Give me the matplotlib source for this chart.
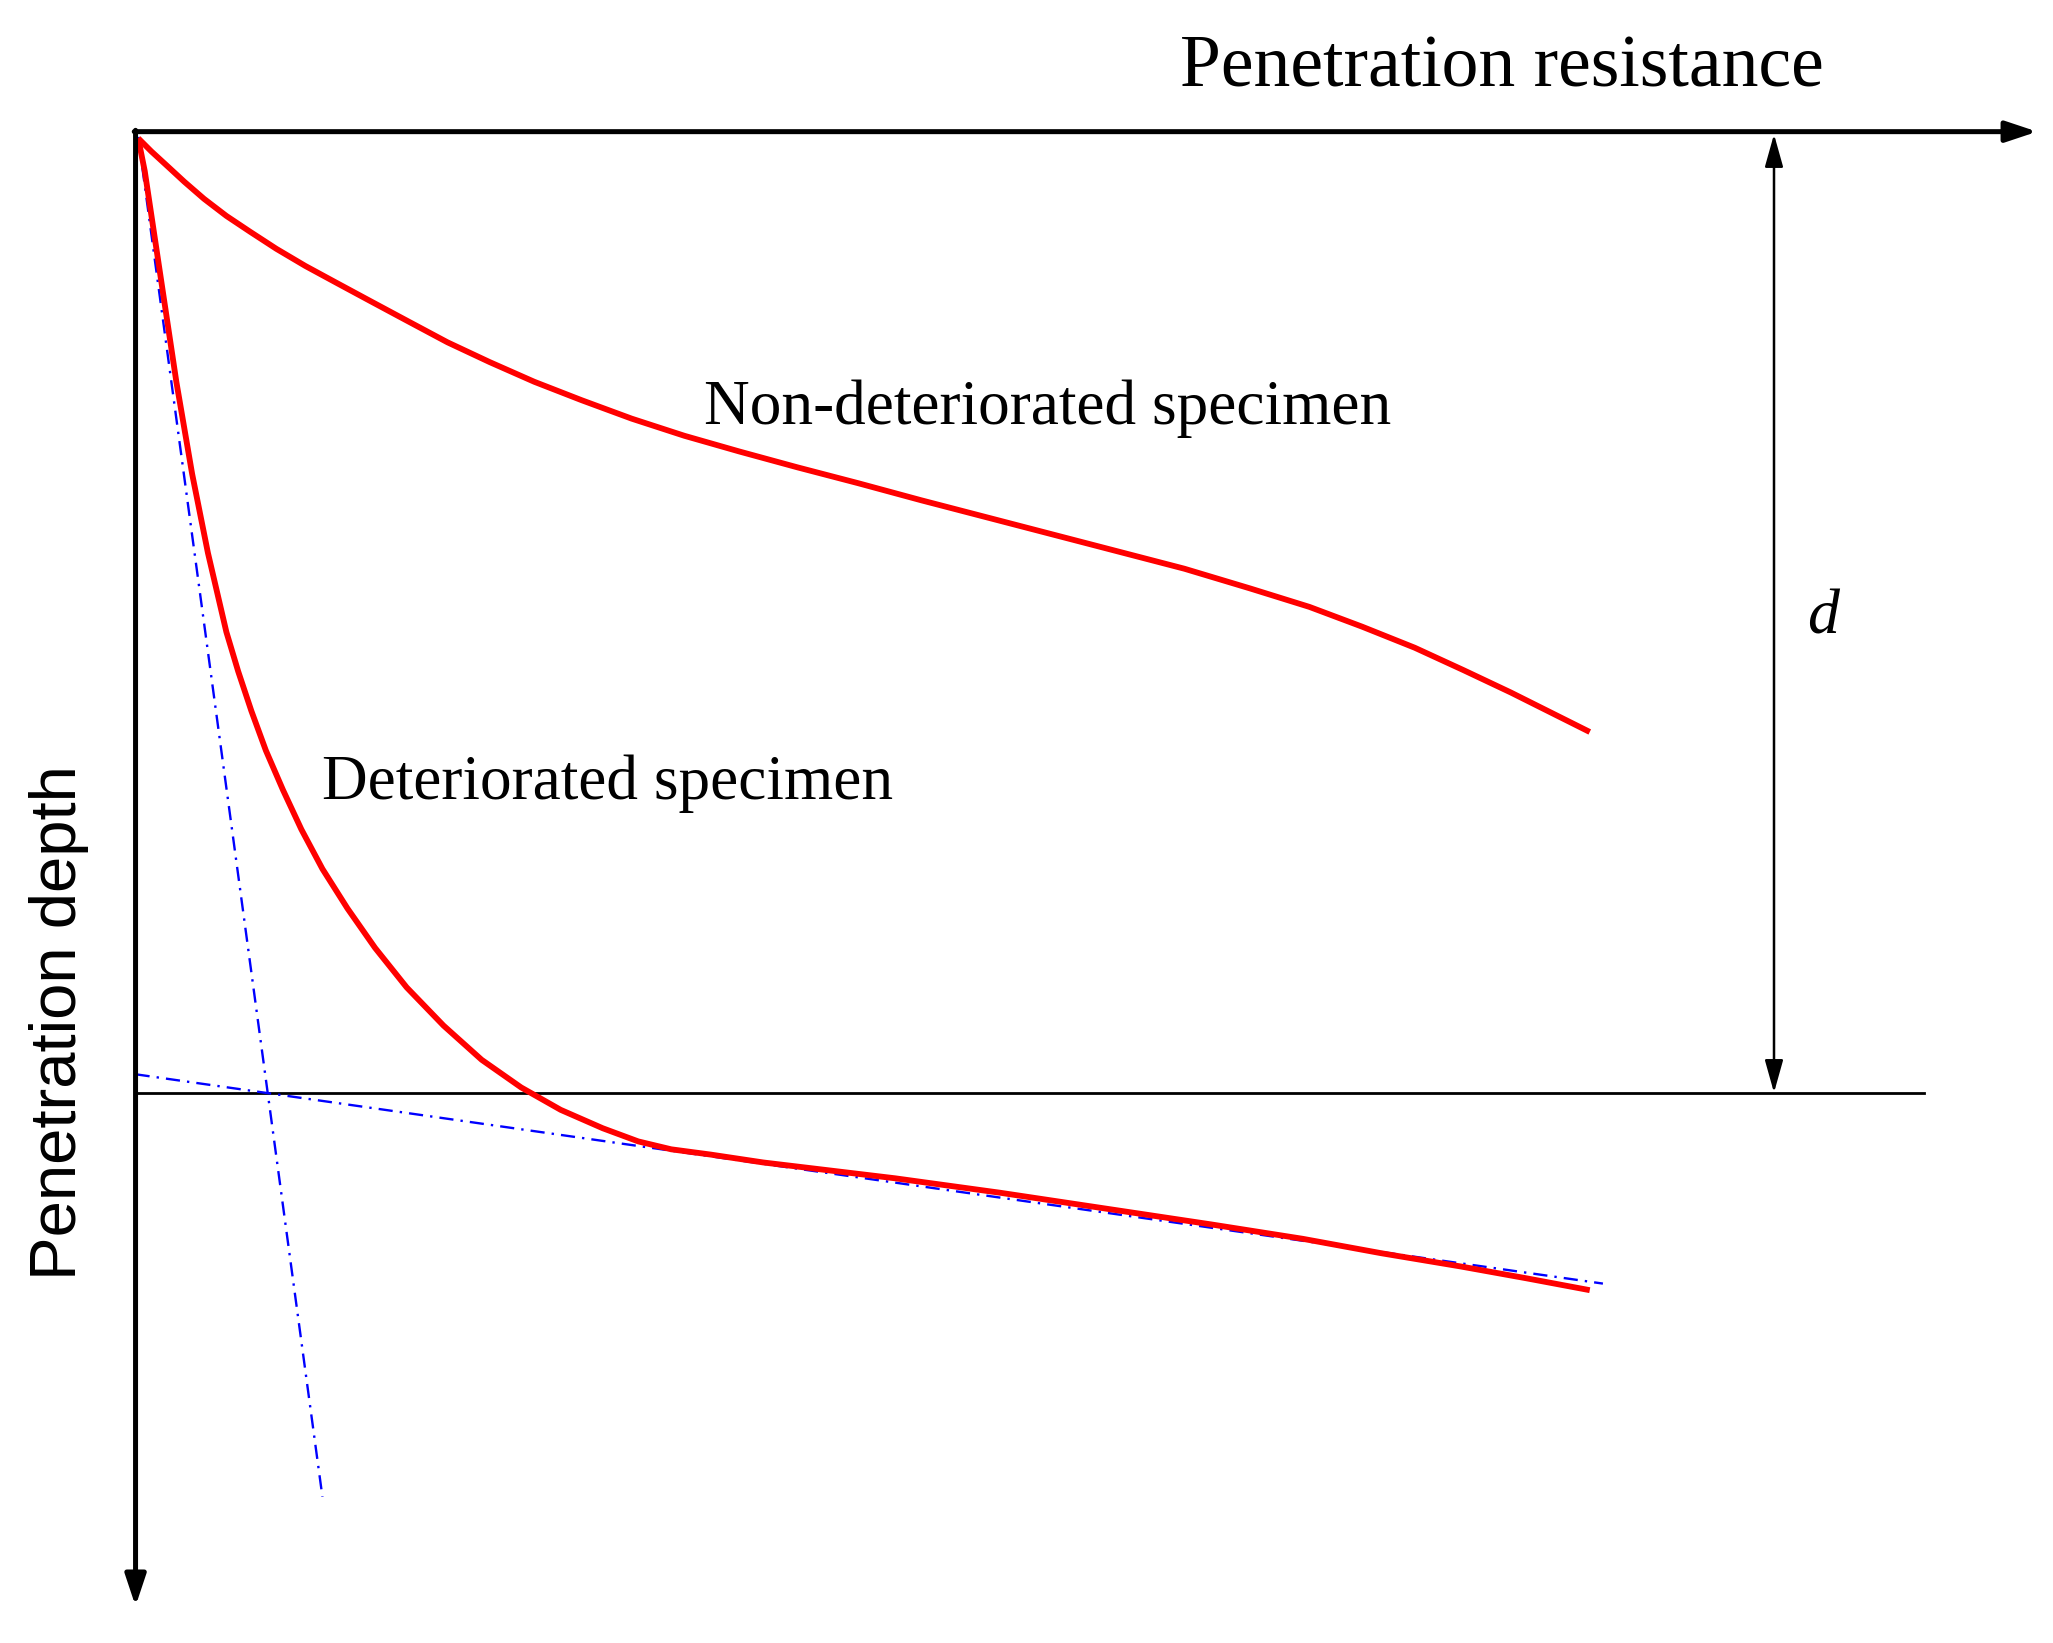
import numpy as np
import matplotlib
matplotlib.use('Agg')
import matplotlib.pyplot as plt

# schematic curves, origin at the corner of the axes, depth grows downward
sound_x = [2, 12, 24, 37, 52, 69, 87, 107, 129, 153, 179, 207, 237, 269, 303, 339, 377,
           417, 459, 503, 549, 597, 647, 697, 747, 797, 847, 892, 932, 972, 1009, 1045,
           1077, 1105]
sound_y = [5, 15, 26, 38, 51, 64, 76, 89, 102, 115, 129, 144, 160, 175, 190, 204, 218,
           231, 243, 255, 267, 280, 293, 306, 319, 332, 347, 361, 376, 392, 409, 426,
           442, 456]

decay_x = [2, 7, 13, 19, 25, 31, 37, 43, 49, 55, 62, 69, 78, 88, 99, 112, 126, 142, 161,
           182, 206, 234, 263, 293, 323, 355, 382, 407, 437, 477, 527, 577, 657, 737, 817,
           887, 947, 1007, 1057, 1105]
decay_y = [5, 30, 70, 110, 150, 190, 225, 260, 290, 320, 350, 380, 410, 440, 470, 500,
           530, 560, 590, 620, 650, 679, 705, 726, 743, 757, 767, 773, 777, 783, 789, 795,
           806, 818, 830, 841, 852, 862, 871, 880]

# tangent lines (blue dash-dot)
steep_x = [2, 142]
steep_y = [4, 1037]
flat_x = [0, 1115]
flat_y = [716, 875]

d_depth = 730
d_pos = 1245
line_end = 1359
x_axis_end = 1445
y_axis_end = 1120

X0, Y0 = 103, 100   # where the axes corner sits in the 1560 x 1248 frame
W, H = 1560, 1248

fig = plt.figure(figsize=(20.53, 16.43), dpi=100)
ax = fig.add_axes([0, 0, 1, 1])
ax.set_xlim(-X0, W - X0)
ax.set_ylim(H - Y0, -Y0)
ax.axis('off')

# axes with arrows
ax.annotate('', xy=(x_axis_end, 0), xytext=(-1, 0),
            arrowprops=dict(arrowstyle='-|>,head_length=0.45,head_width=0.15', color='black',
                            lw=3.6, mutation_scale=42, shrinkA=0, shrinkB=0))
ax.annotate('', xy=(0, y_axis_end), xytext=(0, -1),
            arrowprops=dict(arrowstyle='-|>,head_length=0.45,head_width=0.15', color='black',
                            lw=3.6, mutation_scale=42, shrinkA=0, shrinkB=0))

# reference depth line and d dimension
ax.plot([0, line_end], [d_depth, d_depth], color='black', lw=2.0)
ax.annotate('', xy=(d_pos, 2), xytext=(d_pos, d_depth),
            arrowprops=dict(arrowstyle='<|-|>,head_length=0.5,head_width=0.14', color='black',
                            lw=1.8, mutation_scale=40, shrinkA=0, shrinkB=0))

# tangents
ax.plot(steep_x, steep_y, color='blue', lw=1.7, ls=(0, (6, 3, 1, 3)))
ax.plot(flat_x, flat_y, color='blue', lw=1.7, ls=(0, (6, 3, 1, 3)))

# curves
ax.plot(sound_x, sound_y, color='red', lw=4.2, solid_capstyle='butt', solid_joinstyle='round')
ax.plot(decay_x, decay_y, color='red', lw=4.2, solid_capstyle='butt', solid_joinstyle='round')

# labels
ax.text(794, -34, 'Penetration resistance', fontsize=53, family='Liberation Serif',
        ha='left', va='baseline')
ax.text(-58, 677, 'Penetration depth', fontsize=47, family='Liberation Sans',
        rotation=90, ha='center', va='center')
ax.text(432, 222, 'Non-deteriorated specimen', fontsize=45.5, family='Liberation Serif',
        ha='left', va='baseline')
ax.text(142, 507, 'Deteriorated specimen', fontsize=45.5, family='Liberation Serif',
        ha='left', va='baseline')
ax.text(1282, 370, 'd', fontsize=46, family='Liberation Serif', style='italic',
        ha='center', va='center')

fig.savefig('out.png', dpi=100, facecolor='white')
